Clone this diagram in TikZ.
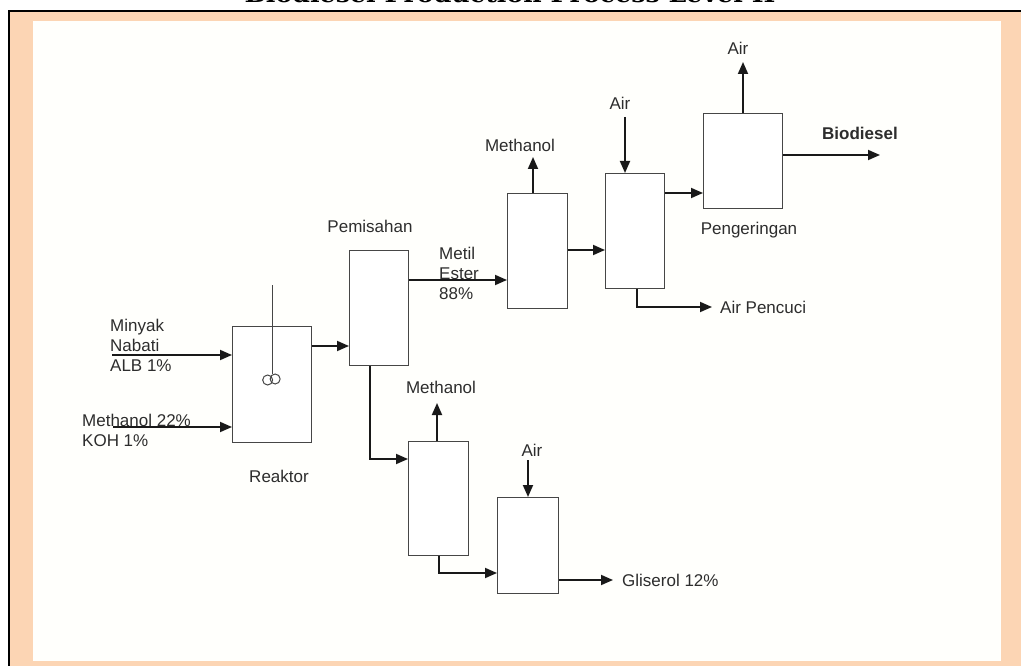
\documentclass[tikz,border=0pt]{standalone}
\usepackage{fontspec}
\setmainfont{Liberation Sans}
\newfontfamily\titlefont{DejaVu Serif}
\usetikzlibrary{arrows.meta,calc}
\definecolor{peach}{RGB}{252,213,180}
\definecolor{innerwhite}{RGB}{255,255,252}
\definecolor{boxgray}{RGB}{70,70,70}
\definecolor{txtgray}{RGB}{45,45,45}
\begin{document}
\begin{tikzpicture}[x=1pt,y=-1pt,
  unit/.style={draw=boxgray, line width=1.3pt, fill=white, inner sep=0pt, anchor=north west},
  arr/.style={draw=black!90, line width=1.8pt, -{Triangle[length=12pt,width=10pt]}},
  lbl/.style={text=txtgray, inner sep=0pt, font=\fontsize{17}{20}\selectfont},
  thin/.style={draw=boxgray, line width=1.2pt}]
\useasboundingbox (0,0) rectangle (1021,666);
\clip (0,0) rectangle (1021,666);
\fill[white] (0,0) rectangle (1021,666);
\fill[peach] (9,11) rectangle (1021,666);
\fill[innerwhite] (33,21) rectangle (1001,661);
\draw[line width=2pt, line cap=rect] (9,666) -- (9,11) -- (1021,11);
\node[inner sep=0pt, anchor=base, font=\titlefont\bfseries\fontsize{23}{26}\selectfont] (title) at (510,3) {\scalebox{1.1}[1]{Biodiesel Production Process Level II}};

% units
\node[unit, minimum width=79pt, minimum height=116pt] (reak) at (232,326) {};
\node[unit, minimum width=59pt, minimum height=115pt] (pem) at (349,250) {};
\node[unit, minimum width=60pt, minimum height=115pt] (m1) at (507,193) {};
\node[unit, minimum width=59pt, minimum height=115pt] (w1) at (605,173) {};
\node[unit, minimum width=79pt, minimum height=95pt] (dry) at (703,113) {};
\node[unit, minimum width=60pt, minimum height=114pt] (m2) at (408,441) {};
\node[unit, minimum width=61pt, minimum height=96pt] (w2) at (497,497) {};

% stirrer
\draw[thin] ($(reak.north)+(0,-41)$) -- ($(reak.north)+(0,48)$);
\draw[thin, line width=1pt] ($(reak.north)+(-4.5,54)$) circle[radius=5];
\draw[thin, line width=1pt] ($(reak.north)+(3,53)$) circle[radius=5];

% coordinates
\coordinate (in1) at (112,355);
\coordinate (in2) at (113,427);
\coordinate (p1) at ($(reak.north east)+(0,20)$);
\coordinate (p2) at ($(pem.north east)+(0,30)$);
\coordinate (p3) at ($(m1.north east)+(0,57)$);
\coordinate (p4) at ($(w1.north east)+(0,20)$);
\coordinate (p5) at ($(dry.north east)+(0,42)$);
\coordinate (bio) at (880,155);
\coordinate (airout) at (743,62);
\coordinate (airin1) at (625,117);
\coordinate (meout1) at (533,157);
\coordinate (ap) at (712,307);
\coordinate (w1b) at (637,0);
\coordinate (pb) at (370,0);
\coordinate (m2in) at ($(m2.north west)+(0,18)$);
\coordinate (meout2) at (437,403);
\coordinate (w2in) at ($(w2.north west)+(0,76)$);
\coordinate (airin2) at (528,460);
\coordinate (gl) at (613,580);

% connectors
\draw[arr] (in1) -- (in1 -| reak.west);
\draw[arr] (in2) -- (in2 -| reak.west);
\draw[arr] (p1) -- (p1 -| pem.west);
\draw[arr] (p2) -- (p2 -| m1.west);
\draw[arr] (p3) -- (p3 -| w1.west);
\draw[arr] (p4) -- (p4 -| dry.west);
\draw[arr] (p5) -- (bio);
\draw[arr] (airout |- dry.north) -- (airout);
\draw[arr] (airin1) -- (airin1 |- w1.north);
\draw[arr] (meout1 |- m1.north) -- (meout1);
\draw[arr] (w1b |- w1.south) |- (ap);
\draw[arr] (pb |- pem.south) |- (m2in);
\draw[arr] (meout2 |- m2.north) -- (meout2);
\draw[arr] (m2.south) |- (w2in);
\draw[arr] (airin2) -- (airin2 |- w2.north);
\draw[arr] (gl -| w2.east) -- (gl);

% labels
\node[lbl, anchor=west, align=left] (lminyak) at (110,345) {Minyak\\Nabati\\ALB 1\%};
\node[lbl, anchor=west, align=left] (lmeth) at (82,430) {Methanol 22\%\\KOH 1\%};
\node[lbl, anchor=west, align=left] (lmetil) at (439,273.5) {Metil\\Ester\\88\%};
\node[lbl, anchor=base] (lreak) at (279,482) {Reaktor};
\node[lbl, anchor=base] (lpem) at (370,233) {Pemisahan};
\node[lbl, anchor=base] (lme1) at (520,152) {Methanol};
\node[lbl, anchor=base] (lair1) at (620,110) {Air};
\node[lbl, anchor=base] (lair2) at (738,55) {Air};
\node[lbl, anchor=base, font=\fontsize{17}{20}\selectfont\bfseries] (lbio) at (860,140) {Biodiesel};
\node[lbl, anchor=base] (ldry) at (749,234) {Pengeringan};
\node[lbl, anchor=base west] (lap) at (720,313) {Air Pencuci};
\node[lbl, anchor=base] (lme2) at (441,393) {Methanol};
\node[lbl, anchor=base] (lair3) at (532,456) {Air};
\node[lbl, anchor=base west] (lgl) at (622,586) {Gliserol 12\%};
\end{tikzpicture}
\end{document}
